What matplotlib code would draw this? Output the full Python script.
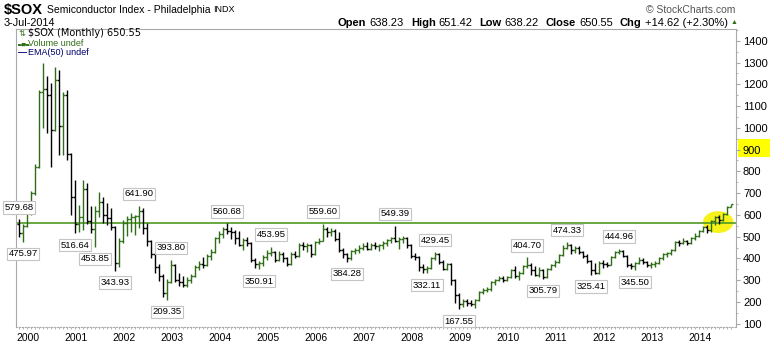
import matplotlib
matplotlib.use("Agg")
import matplotlib.pyplot as plt
from matplotlib.patches import Ellipse, Rectangle
import numpy as np
import pandas as pd

plt.rcParams["font.family"] = ["Liberation Sans", "DejaVu Sans"]

# monthly bars, Sep 1999 .. Jul 2014
START_MONTH = "1999-09"
opens = [
    560, 515, 550, 610, 700, 820, 1165, 1180, 1150, 990, 1220, 1010, 1150, 880, 680, 560,
    590, 720, 570, 535, 620, 660, 600, 585, 545, 380, 480, 565,
    580, 590, 595, 620, 540, 480, 420, 360, 320, 240, 290, 370,
    300, 290, 280, 300, 320, 360, 375, 370, 410, 430, 495, 510,
    535, 525, 520, 495, 460, 485, 470, 395, 375, 380, 405, 425,
    430, 395, 420, 400, 375, 420, 410, 460, 455, 460, 420, 475,
    480, 535, 520, 525, 490, 440, 420, 400, 435, 440, 450, 455,
    445, 460, 455, 460, 470, 485, 495, 480, 490, 492, 460, 410,
    405, 360, 350, 355, 400, 420, 385, 350, 375, 300, 230, 190,
    205, 195, 190, 210, 245, 255, 260, 290, 300, 310, 300, 315,
    345, 320, 335, 365, 370, 345, 325, 345, 315, 350, 370, 385,
    415, 450, 460, 440, 450, 430, 410, 390, 345, 335, 380, 375,
    370, 405, 430, 435, 410, 370, 365, 380, 395, 385, 370, 375,
    380, 400, 420, 425, 440, 475, 470, 480, 470, 495, 505, 525,
    545, 530, 570, 590, 575, 605, 638.23,
]
highs = [
    579.68, 560, 620, 710, 835, 1175, 1300, 1240, 1205, 1280, 1265, 1165, 1175, 885, 760, 645,
    760, 746, 640, 640, 705, 681, 654, 630, 550, 493, 575, 595,
    610, 600, 641.90, 630, 565, 485, 425, 375, 330, 305, 393.80, 375,
    335, 320, 315, 330, 370, 390, 405, 420, 445, 500, 525, 545,
    560.68, 545, 530, 525, 495, 500, 475, 400, 390, 415, 440, 453.95,
    435, 435, 430, 405, 430, 435, 470, 475, 470, 465, 480, 495,
    559.60, 545, 540, 535, 520, 450, 425, 440, 450, 460, 470, 475,
    470, 475, 465, 480, 490, 500, 549.39, 500, 505, 500, 465, 425,
    410, 375, 365, 405, 429.45, 425, 395, 380, 380, 305, 240, 215,
    215, 210, 215, 250, 265, 270, 295, 305, 320, 320, 320, 350,
    365, 340, 370, 404.70, 380, 365, 360, 350, 355, 375, 395, 420,
    460, 474.33, 465, 455, 455, 435, 420, 395, 380, 390, 395, 385,
    410, 435, 444.96, 440, 415, 380, 385, 405, 400, 390, 385, 390,
    405, 425, 430, 445, 480, 485, 495, 485, 500, 515, 530, 550,
    555, 575, 595, 600, 610, 640, 651.42,
]
lows = [
    500, 475.97, 545, 600, 690, 815, 1000, 975, 820, 985, 875, 875, 850, 598, 516.64, 520,
    530, 560, 517, 453.85, 590, 562, 553, 530, 343.93, 360, 470, 505,
    520, 507, 540, 510, 455, 400, 335, 295, 225, 209.35, 285, 290,
    275, 270, 270, 285, 315, 345, 355, 365, 395, 425, 470, 495,
    510, 490, 465, 455, 440, 455, 385, 355, 350.91, 365, 395, 410,
    385, 390, 385, 365, 370, 400, 405, 440, 430, 405, 415, 465,
    478, 500, 505, 480, 430, 400, 384.28, 395, 420, 425, 440, 440,
    440, 445, 435, 445, 455, 470, 475, 445, 470, 450, 400, 395,
    340, 335, 332.11, 350, 395, 375, 345, 345, 280, 195, 167.55, 175,
    180, 180, 172, 205, 235, 245, 250, 280, 295, 290, 295, 310,
    310, 300, 330, 355, 325, 320, 315, 305.79, 310, 345, 360, 380,
    410, 445, 420, 425, 420, 400, 380, 325.41, 330, 330, 355, 360,
    368, 400, 420, 405, 360, 350, 345.50, 375, 375, 360, 355, 360,
    375, 395, 405, 415, 435, 455, 465, 460, 465, 485, 500, 520,
    515, 520, 555, 560, 570, 600, 638.22,
]
closes = [
    515, 550, 610, 700, 820, 1165, 1180, 1150, 990, 1220, 1010, 1150, 880, 680, 560, 590,
    720, 570, 535, 620, 660, 600, 585, 545, 380, 480, 565, 580,
    590, 595, 620, 540, 480, 420, 360, 320, 240, 290, 370, 300,
    290, 280, 300, 320, 360, 375, 370, 410, 430, 495, 510, 535,
    525, 520, 495, 460, 485, 470, 395, 375, 380, 405, 425, 430,
    395, 420, 400, 375, 420, 410, 460, 455, 460, 420, 475, 480,
    535, 520, 525, 490, 440, 420, 400, 435, 440, 450, 455, 445,
    460, 455, 460, 470, 485, 495, 480, 490, 492, 460, 410, 405,
    360, 350, 355, 400, 420, 385, 350, 375, 300, 230, 190, 205,
    195, 190, 210, 245, 255, 260, 290, 300, 310, 300, 315, 345,
    320, 335, 365, 370, 345, 325, 345, 315, 350, 370, 385, 415,
    450, 460, 440, 450, 430, 410, 390, 345, 335, 380, 375, 370,
    405, 430, 435, 410, 370, 365, 380, 395, 385, 370, 375, 380,
    400, 420, 425, 440, 475, 470, 480, 470, 495, 505, 525, 545,
    530, 570, 590, 575, 605, 635.93, 650.55,
]

# annotated swing points: bar index of a marked high / a marked low
high_marks = [0, 30, 38, 52, 63, 76, 94, 104, 127, 137, 150]
low_marks = [1, 14, 19, 24, 37, 60, 82, 102, 110, 131, 143, 154]

RESISTANCE = 562

W, H = 780, 345
GREEN = "#2f6e16"
LINE_GREEN = "#4f9a24"
FRAME = "#a8a8a8"

months = pd.period_range(START_MONTH, periods=len(closes), freq="M")
x = np.arange(len(closes))
prev = np.r_[np.inf, closes[:-1]]
colors = [GREEN if c >= p else "black" for c, p in zip(closes, prev)]

fig = plt.figure(figsize=(W / 100, H / 100), dpi=100)
ax = fig.add_axes([16 / W, 1 - 327 / H, 720 / W, 298 / H])

ax.add_patch(Ellipse((174.8, 567), 7.6, 100, color="#f7f21a", zorder=1, lw=0))
ax.axhline(RESISTANCE, color=LINE_GREEN, lw=1.2, zorder=2)

ax.vlines(x, lows, highs, colors=colors, lw=1.0, zorder=3)
ax.hlines(opens, x - 0.45, x, colors=colors, lw=1.0, zorder=3)
ax.hlines(closes, x, x + 0.45, colors=colors, lw=1.0, zorder=3)

box = dict(boxstyle="square,pad=0.18", fc="white", ec="#c4c4c4", lw=0.8)
for i in high_marks:
    ax.annotate(f"{highs[i]:.2f}", xy=(i, highs[i]), xytext=(0, 12), textcoords="offset pixels",
                ha="center", va="center", fontsize=6.8, bbox=box, zorder=4)
for i in low_marks:
    ax.annotate(f"{lows[i]:.2f}", xy=(i, lows[i]), xytext=(0, -12), textcoords="offset pixels",
                ha="center", va="center", fontsize=6.8, bbox=box, zorder=4)

ax.set_xlim(-0.75, len(closes) + 0.25)
ax.set_ylim(85, 1454)

jan = [i for i, m in enumerate(months) if m.month == 1]
ax.set_xticks([i - 1.7 for i in jan])
ax.set_xticklabels([str(months[i].year) for i in jan], fontsize=7.5)
ax.set_xticks(x, minor=True)
ax.tick_params(axis="x", which="major", length=0, pad=4)
ax.tick_params(axis="x", which="minor", length=1.5, color=FRAME)

ax.yaxis.tick_right()
ax.set_yticks(np.arange(100, 1401, 100))
ax.set_yticks(np.arange(150, 1451, 100), minor=True)
ax.tick_params(axis="y", which="major", length=3, color=FRAME, labelsize=8, pad=2)
ax.tick_params(axis="y", which="minor", length=1.5, color=FRAME)

for side in ["left", "top", "right"]:
    ax.spines[side].set_color(FRAME)
ax.spines["bottom"].set_color(FRAME)
ax.spines["bottom"].set_linestyle(":")

# highlight behind the 900 label
fig.add_artist(Rectangle((738 / W, 1 - 157 / H), 32 / W, 18 / H, transform=fig.transFigure,
                         color="#ffff00", zorder=-1, lw=0))

# legend lines inside the panel
rows = [4.5, 14, 23.5]
ax.text(3 / 720, 1 - rows[0] / 298, "\u21c5", color=GREEN, fontsize=6, va="center",
        transform=ax.transAxes, family=["DejaVu Sans"])
ax.text(12 / 720, 1 - rows[0] / 298, f"$SOX (Monthly) {closes[-1]:.2f}", fontsize=7, va="center",
        transform=ax.transAxes, family=["DejaVu Sans"])
ax.text(2 / 720, 1 - rows[1] / 298, "\u2583\u2585\u2583", color=GREEN, fontsize=3.5, va="center",
        transform=ax.transAxes, family=["DejaVu Sans"])
ax.text(12 / 720, 1 - rows[1] / 298, "Volume undef", color=GREEN, fontsize=6.5, va="center",
        transform=ax.transAxes)
ax.text(2 / 720, 1 - rows[2] / 298, "\u2014", color="#000070", fontsize=6.5, va="center",
        transform=ax.transAxes, fontweight="bold")
ax.text(12 / 720, 1 - rows[2] / 298, "EMA(50) undef", color="#000070", fontsize=6.5, va="center",
        transform=ax.transAxes)

renderer = fig.canvas.get_renderer()


def put_run(x_px, y_px, pieces):
    for text, weight, size, color, gap in pieces:
        t = fig.text(x_px / W, 1 - y_px / H, text, fontsize=size, fontweight=weight,
                     color=color, ha="left", va="center")
        x_px += t.get_window_extent(renderer).width + gap


put_run(4, 10, [("$SOX", "bold", 10.5, "black", 4),
                ("Semiconductor Index - Philadelphia", "normal", 7.5, "black", 3),
                ("INDX", "normal", 6.5, "black", 0)])
fig.text(4 / W, 1 - 23 / H, "3-Jul-2014", fontsize=7.8, va="center")

chg = closes[-1] - closes[-2]
pct = chg / closes[-2] * 100
put_run(338, 23, [("Open", "bold", 8, "black", 3), (f"{opens[-1]:.2f}", "normal", 8, "black", 7),
                  ("High", "bold", 8, "black", 3), (f"{highs[-1]:.2f}", "normal", 8, "black", 7),
                  ("Low", "bold", 8, "black", 3), (f"{lows[-1]:.2f}", "normal", 8, "black", 7),
                  ("Close", "bold", 8, "black", 3), (f"{closes[-1]:.2f}", "normal", 8, "black", 7),
                  ("Chg", "bold", 8, "black", 3), (f"+{chg:.2f} (+{pct:.2f}%)", "normal", 8, "black", 3),
                  ("\u25b2", "normal", 5, GREEN, 0)])
fig.text(735 / W, 1 - 10 / H, "\u00a9 StockCharts.com", fontsize=7.5, color="#555555",
         ha="right", va="center")

fig.savefig("out.png", dpi=100)
